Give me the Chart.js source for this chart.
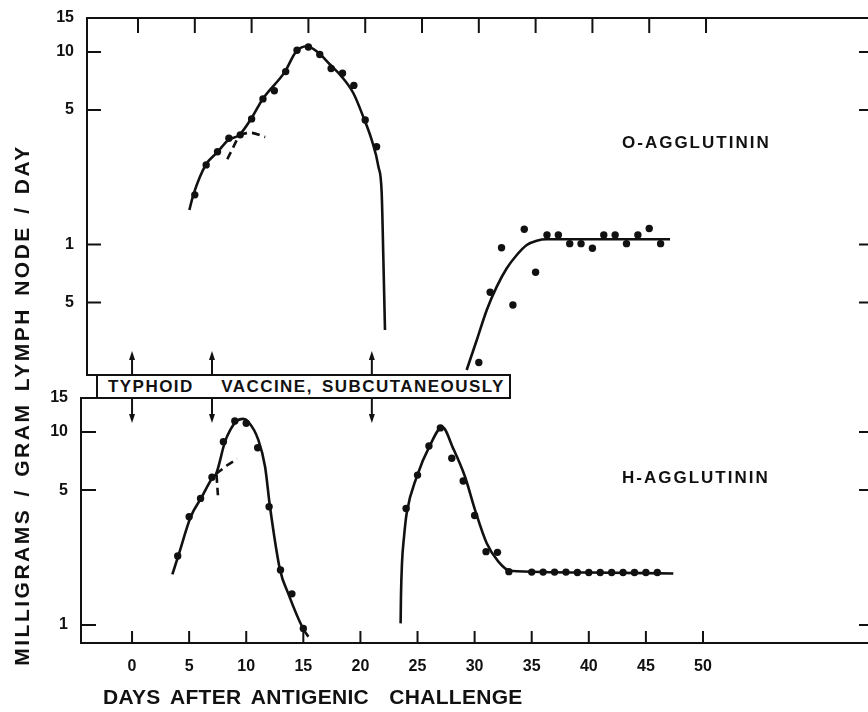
<!DOCTYPE html>
<html>
<head>
<meta charset="utf-8">
<script src="https://cdn.jsdelivr.net/npm/chart.js@4/dist/chart.umd.min.js"></script>
<style>
html, body { margin:0; padding:0; background:#fff; overflow:hidden; }
#wrap { position:relative; width:868px; height:712px; overflow:hidden; background:#fff; }
canvas { position:absolute; left:0; }
#topChart { top:0; }
#bottomChart { top:340px; }
.lbl { position:absolute; font-family:"Liberation Sans", Arial, sans-serif; font-weight:bold; color:#111; white-space:pre; }
#box { position:absolute; left:96px; top:374px; width:411px; height:21px; border:2px solid #111; background:#fff; }
#box span { position:absolute; left:10px; top:2px; font-size:17px; line-height:18px; letter-spacing:1.45px; word-spacing:3px; }
#oLabel { left:622px; top:134px; font-size:17px; letter-spacing:2px; line-height:18px; }
#hLabel { left:622px; top:469px; font-size:17px; letter-spacing:2px; line-height:18px; }
#xTitle { left:103px; top:685px; font-size:21px; line-height:24px; letter-spacing:0.3px; word-spacing:4px; }
#yTitle { left:-248px; top:393px; width:540px; height:24px; line-height:24px; text-align:center; font-size:21px; letter-spacing:2.5px; word-spacing:3px; transform:rotate(-90deg); }
</style>
</head>
<body>
<div id="wrap">
  <canvas id="topChart" width="900" height="380"></canvas>
  <canvas id="bottomChart" width="900" height="372"></canvas>
  <div id="box"><span class="lbl">TYPHOID   VACCINE, SUBCUTANEOUSLY</span></div>
  <div id="oLabel" class="lbl">O-AGGLUTININ</div>
  <div id="hLabel" class="lbl">H-AGGLUTININ</div>
  <div id="xTitle" class="lbl">DAYS AFTER ANTIGENIC  CHALLENGE</div>
  <div id="yTitle" class="lbl">MILLIGRAMS / GRAM LYMPH NODE / DAY</div>
</div>
<script>
// x axis (days) and vaccination days
var dayTicks    = [0, 5, 10, 15, 20, 25, 30, 35, 40, 45, 50];
var vaccineDays = [0, 7, 21];

// upper panel, O-agglutinin (mg / g lymph node / day)
var oTickVals   = [0.5, 1, 5, 10, 15];
var oTickText   = ['5', '1', '5', '10', '15'];
var oTickMarks  = [0.5, 1, 5, 10];
var oDays1 = [5, 6, 7, 8, 9, 10, 11, 12, 13, 14, 15, 16, 17, 18, 19, 20, 21];
var oVals1 = [1.81, 2.59, 3.03, 3.56, 3.71, 4.49, 5.70, 6.29, 7.90, 10.2, 10.6, 9.7, 8.2, 7.75, 6.7, 4.43, 3.22];
var oDays2 = [30, 31, 32, 33, 34, 35, 36, 37, 38, 39, 40, 41, 42, 43, 44, 45, 46];
var oVals2 = [0.244, 0.565, 0.962, 0.485, 1.20, 0.717, 1.12, 1.12, 1.01, 1.01, 0.956, 1.12, 1.12, 1.01, 1.12, 1.21, 1.01];
// fitted curves
var oCurveDays1 = [4.52, 4.87, 5.96, 7.02, 7.95, 8.92, 9.95, 10.98, 12.94, 13.9, 14.85, 15.88, 16.9, 17.93, 18.96, 19.83, 20.57, 21.16, 21.45, 21.6, 21.74];
var oCurveVals1 = [1.51, 1.81, 2.59, 3.03, 3.49, 3.71, 4.49, 5.7, 7.9, 10.0, 10.7, 9.9, 8.6, 7.44, 6.1, 4.6, 3.49, 2.54, 1.85, 0.83, 0.36];
var oDashDaysA = [8.9, 9.9, 11.2];
var oDashValsA = [3.72, 3.8, 3.62];
var oDashDaysB = [7.86, 8.92];
var oDashValsB = [2.77, 3.71];
var oCurveDays2 = [28.93, 29.82, 30.7, 31.58, 32.46, 33.34, 34.22, 35.1, 35.98, 40, 46.83];
var oCurveVals2 = [0.223, 0.319, 0.457, 0.604, 0.752, 0.882, 0.994, 1.046, 1.064, 1.064, 1.064];

// lower panel, H-agglutinin
var hTickVals  = [1, 5, 10, 15];
var hTickText  = ['1', '5', '10', '15'];
var hTickMarks = [1, 5, 10];
var hDays1 = [4, 5, 6, 7, 8, 9, 10, 11, 12, 13, 14, 15];
var hVals1 = [2.28, 3.64, 4.53, 5.83, 8.91, 11.4, 11.1, 8.29, 4.10, 1.93, 1.45, 0.96];
var hDays2 = [24, 25, 26, 27, 28, 29, 30, 31, 32, 33, 35, 36, 37, 38, 39, 40, 41, 42, 43, 44, 45, 46];
var hVals2 = [4.02, 5.98, 8.46, 10.5, 7.31, 5.57, 3.69, 2.40, 2.38, 1.89, 1.88, 1.88, 1.88, 1.88, 1.87, 1.87, 1.87, 1.87, 1.87, 1.87, 1.87, 1.87];
var hCurveDays1 = [3.53, 4.05, 5.14, 6.04, 7.07, 7.36, 8.14, 8.58, 9.17, 9.72, 10.18, 11.06, 11.65, 12.08, 12.96, 13.69, 14.95, 15.44];
var hCurveVals1 = [1.83, 2.28, 3.64, 4.53, 5.83, 6.06, 8.91, 10.2, 11.4, 11.7, 11.3, 9.1, 6.6, 4.1, 1.93, 1.45, 0.965, 0.87];
var hDashDaysA = [7.36, 8.3, 9.22];
var hDashValsA = [6.06, 6.7, 7.25];
var hDashDaysB = [7.4, 7.52];
var hDashValsB = [6.0, 4.7];
var hCurveDays2 = [23.52, 23.55, 23.64, 23.82, 24.05, 24.93, 26.1, 27.17, 28.13, 29.16, 30.04, 31.06, 32.08, 33.1, 40, 47.4];
var hCurveVals2 = [1.02, 1.40, 2.09, 2.87, 3.79, 5.86, 8.56, 10.6, 8.2, 5.86, 3.94, 2.65, 2.13, 1.91, 1.87, 1.85];

var ink = '#111';
var tickFont = { family: '"Liberation Sans", Arial, sans-serif', size: 16, weight: 'bold' };

function pts(xs, ys) {
    return xs.map(function (x, i) { return { x: x, y: ys[i] }; });
}
function dots(xs, ys) {
    return { data: pts(xs, ys), showLine: false, pointRadius: 3.7, pointHoverRadius: 3.7,
             pointBackgroundColor: ink, pointBorderWidth: 0 };
}
function curve(xs, ys, dashed) {
    return { data: pts(xs, ys), showLine: true, pointRadius: 0, borderColor: ink, borderWidth: 2.6,
             cubicInterpolationMode: 'monotone', borderDash: dashed ? [8, 5] : [] };
}
function arrow(ctx, x, y0, y1) {
    var dir = y1 > y0 ? 1 : -1;
    ctx.beginPath();
    ctx.moveTo(x, y0);
    ctx.lineTo(x, y1 - dir * 6);
    ctx.stroke();
    ctx.beginPath();
    ctx.moveTo(x, y1);
    ctx.lineTo(x - 3, y1 - dir * 9);
    ctx.lineTo(x + 3, y1 - dir * 9);
    ctx.closePath();
    ctx.fill();
}

// frame, inward ticks, arrows: drawn with the chart's own scales
var topFrame = {
    id: 'topFrame',
    afterDraw: function (chart) {
        var ctx = chart.ctx, a = chart.chartArea, xs = chart.scales.x, ys = chart.scales.y;
        ctx.save();
        ctx.strokeStyle = ink;
        ctx.lineWidth = 2;
        ctx.beginPath();
        ctx.moveTo(a.left, a.bottom);
        ctx.lineTo(a.left, a.top);
        ctx.lineTo(a.right, a.top);
        ctx.moveTo(a.left - 1, a.bottom);
        ctx.lineTo(a.left + 10, a.bottom);
        dayTicks.forEach(function (d) {
            var x = xs.getPixelForValue(d);
            ctx.moveTo(x, a.top);
            ctx.lineTo(x, a.top + 15);
        });
        oTickMarks.forEach(function (v) {
            var y = ys.getPixelForValue(v);
            ctx.moveTo(a.left, y);
            ctx.lineTo(a.left + 14, y);
            ctx.moveTo(a.right - 13, y);
            ctx.lineTo(a.right, y);
        });
        ctx.stroke();
        ctx.restore();
    }
};

var bottomFrame = {
    id: 'bottomFrame',
    afterDraw: function (chart) {
        var ctx = chart.ctx, a = chart.chartArea, xs = chart.scales.x, ys = chart.scales.y;
        ctx.save();
        ctx.strokeStyle = ink;
        ctx.fillStyle = ink;
        ctx.lineWidth = 2;
        ctx.beginPath();
        ctx.moveTo(a.left + 16, a.top);
        ctx.lineTo(a.left, a.top);
        ctx.lineTo(a.left, a.bottom);
        ctx.lineTo(a.right, a.bottom);
        dayTicks.forEach(function (d) {
            var x = xs.getPixelForValue(d);
            ctx.moveTo(x, a.bottom);
            ctx.lineTo(x, a.bottom - 12);
        });
        hTickMarks.forEach(function (v) {
            var y = ys.getPixelForValue(v);
            ctx.moveTo(a.left, y);
            ctx.lineTo(a.left + 15, y);
            ctx.moveTo(a.right - 13, y);
            ctx.lineTo(a.right, y);
        });
        ctx.stroke();
        vaccineDays.forEach(function (d) {
            var x = xs.getPixelForValue(d);
            arrow(ctx, x, a.top - 24, a.top - 47);
            arrow(ctx, x, a.top, a.top + 25);
        });
        ctx.restore();
    }
};

function panelOptions(xMin, xMax, yMin, yMax, tickVals, tickText, leftWidth, pad, showX, xHeight) {
    return {
        responsive: false,
        animation: false,
        devicePixelRatio: 1,
        layout: { padding: pad, autoPadding: false },
        plugins: { legend: { display: false }, tooltip: { enabled: false } },
        scales: {
            x: {
                type: 'linear',
                min: xMin,
                max: xMax,
                display: showX,
                grid: { display: false, drawTicks: false },
                border: { display: false },
                afterBuildTicks: function (s) { s.ticks = dayTicks.map(function (v) { return { value: v }; }); },
                afterFit: function (s) {
                    if (showX) s.height = xHeight;
                    s.paddingLeft = 0; s.paddingRight = 0;
                },
                ticks: { color: ink, font: tickFont, padding: 14, autoSkip: false, maxRotation: 0,
                         callback: function (v) { return String(v); } }
            },
            y: {
                type: 'logarithmic',
                min: yMin,
                max: yMax,
                grid: { display: false, drawTicks: false },
                border: { display: false },
                afterBuildTicks: function (s) { s.ticks = tickVals.map(function (v) { return { value: v }; }); },
                afterFit: function (s) {
                    s.width = leftWidth;
                    s.paddingTop = 0; s.paddingBottom = 0;
                },
                ticks: { color: ink, font: tickFont, padding: 13, autoSkip: false,
                         callback: function (v) { return tickText[tickVals.indexOf(v)]; } }
            }
        }
    };
}

new Chart(document.getElementById('topChart'), {
    type: 'scatter',
    data: {
        datasets: [
            curve(oCurveDays1, oCurveVals1, false),
            curve(oDashDaysA, oDashValsA, true),
            curve(oDashDaysB, oDashValsB, true),
            curve(oCurveDays2, oCurveVals2, false),
            dots(oDays1, oVals1),
            dots(oDays2, oVals2)
        ]
    },
    options: panelOptions(-4.49, 64.61, 0.21, 15, oTickVals, oTickText, 87,
        { top: 18, right: 28, bottom: 5, left: 0 }, false, 0),
    plugins: [topFrame]
});

new Chart(document.getElementById('bottomChart'), {
    type: 'scatter',
    data: {
        datasets: [
            curve(hCurveDays1, hCurveVals1, false),
            curve(hDashDaysA, hDashValsA, true),
            curve(hDashDaysB, hDashValsB, true),
            curve(hCurveDays2, hCurveVals2, false),
            dots(hDays1, hVals1),
            dots(hDays2, hVals2)
        ]
    },
    options: panelOptions(-4.47, 64.8, 0.807, 15, hTickVals, hTickText, 81,
        { top: 58, right: 28, bottom: 0, left: 0 }, true, 69),
    plugins: [bottomFrame]
});
</script>
</body>
</html>
